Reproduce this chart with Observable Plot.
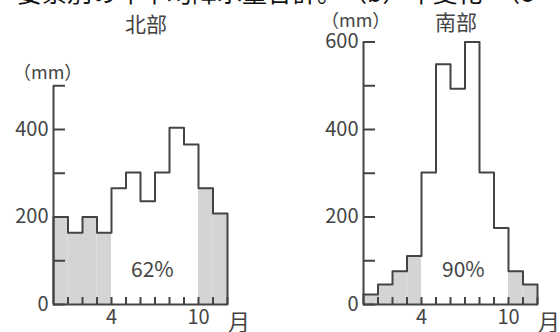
<!DOCTYPE html>
<html><head><meta charset="utf-8">
<script src="https://cdn.jsdelivr.net/npm/d3@7"></script>
<script src="https://cdn.jsdelivr.net/npm/@observablehq/plot@0.6"></script>
<style>
body{margin:0;background:#fff;}
#wrap{position:relative;width:560px;height:332px;overflow:hidden;font-family:"Noto Sans CJK SC",sans-serif;color:#444;background:#fff;}
.lbl{position:absolute;white-space:nowrap;line-height:1;}
.panel{position:absolute;top:0;}
</style></head><body><div id="wrap"></div>
<script>
// data (mm per month)
const months = [1,2,3,4,5,6,7,8,9,10,11,12];
const northRain = [200,164,200,164,266,302,236,302,404,366,266,208];
const southRain = [23,46,76,111,302,549,493,600,302,175,76,46];
const dryMonths = [1,2,3,4,11,12];
const northTicks = [0,100,200,300,400,500];
const northLabels = [0,200,400];
const southTicks = [0,100,200,300,400,500,600];
const southLabels = [0,200,400,600];
const xLabelTicks = [4,10];
const titles = ["北部","南部"];
const shares = ["62%","90%"];
const unit = "（mm）";
const monthUnit = "月";
const headText = "・要素別の年平均降水量合計。　（b）年変化　（c";

const FONT = '"Noto Sans CJK SC", sans-serif';
const INK = "#444";

function panel(values, yMax, yTicks, yLabels, m) {
  const rows = months.map((mo, i) => ({x1: mo - 1, x2: mo, y: values[i], dry: dryMonths.includes(mo)}));
  const outline = [{x: 0, y: 0}, ...rows.map(r => ({x: r.x1, y: r.y})), {x: months.length, y: 0}];
  return Plot.plot({
    width: 280, height: 332,
    marginLeft: m.left, marginRight: m.right, marginTop: m.top, marginBottom: 28,
    x: {domain: [0, months.length], label: null},
    y: {domain: [0, yMax], label: null},
    style: {fontFamily: FONT, fontSize: "20px", color: INK, background: "transparent", overflow: "visible"},
    marks: [
      Plot.rectY(rows.filter(r => r.dry), {x1: "x1", x2: "x2", y: "y", fill: "#d4d4d4"}),
      Plot.axisX({ticks: months, tickSize: -7, tickFormat: () => "", strokeWidth: 2, label: null}),
      Plot.axisX({ticks: xLabelTicks, tickSize: 0, tickPadding: 5, label: null}),
      Plot.axisY({ticks: yTicks, tickSize: -12, tickFormat: () => "", strokeWidth: 2, label: null}),
      Plot.axisY({ticks: yLabels, tickSize: 0, tickPadding: 5, label: null}),
      Plot.ruleX([0], {y1: 0, y2: yMax, stroke: INK, strokeWidth: 2}),
      Plot.ruleY([0], {x1: 0, x2: months.length, stroke: INK, strokeWidth: 2}),
      Plot.line(outline, {x: "x", y: "y", curve: "step-after", stroke: INK, strokeWidth: 2})
    ]
  });
}

const wrap = document.getElementById("wrap");
const left = panel(northRain, 500, northTicks, northLabels, {left: 53, right: 53, top: 85.25});
const right = panel(southRain, 600, southTicks, southLabels, {left: 83, right: 23, top: 41.5});
left.classList.add("panel"); left.style.left = "0px";
right.classList.add("panel"); right.style.left = "280px";
wrap.appendChild(left);
wrap.appendChild(right);

function label(text, css) {
  const d = document.createElement("div");
  d.className = "lbl";
  d.textContent = text;
  Object.assign(d.style, css);
  wrap.appendChild(d);
}
label(headText, {left: "-8px", top: "-21px", fontSize: "25px", color: "#111"});
label(titles[0], {left: "125px", top: "13px", fontSize: "21px"});
label(titles[1], {left: "435px", top: "11px", fontSize: "21px"});
label(unit, {left: "13px", top: "62px", fontSize: "18px"});
label(unit, {left: "321px", top: "10px", fontSize: "18px"});
label(shares[0], {left: "131px", top: "258px", fontSize: "21px"});
label(shares[1], {left: "442px", top: "258px", fontSize: "21px"});
label(monthUnit, {left: "228px", top: "309px", fontSize: "22px"});
label(monthUnit, {left: "538px", top: "309px", fontSize: "22px"});
</script></body></html>
